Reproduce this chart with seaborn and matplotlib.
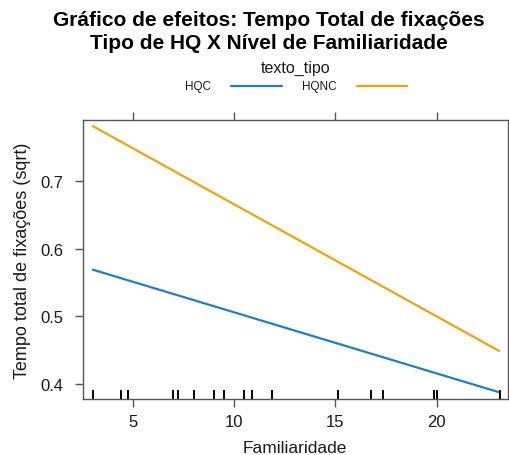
import matplotlib
matplotlib.use("Agg")
import matplotlib.pyplot as plt
import seaborn as sns
import pandas as pd
import numpy as np

# Data
tipos = ["HQC", "HQNC"]
x_ends = [3.0, 23.09]
hqc_vals = [0.569, 0.388]
hqnc_vals = [0.781, 0.449]
familiaridade_obs = [3.0, 4.38, 4.72, 6.98, 7.23, 7.99, 8.99, 9.5, 10.49, 10.89,
                     11.87, 15.14, 16.76, 17.37, 19.87, 20.0, 23.13]
x_ticks = [5, 10, 15, 20]
y_ticks = [0.4, 0.5, 0.6, 0.7]

colors = {"HQC": "#1F7FC8", "HQNC": "#F0A30A"}

df = pd.DataFrame({
    "Familiaridade": x_ends * 2,
    "valor": hqc_vals + hqnc_vals,
    "texto_tipo": ["HQC"] * 2 + ["HQNC"] * 2,
})

sns.set_style("white")
plt.rcParams['font.family'] = ['Liberation Sans', 'DejaVu Sans']

fig = plt.figure(figsize=(5.09, 4.56), dpi=100)
ax = fig.add_axes([0.1625, 0.1228, 0.835, 0.6118])

sns.lineplot(data=df, x="Familiaridade", y="valor", hue="texto_tipo",
             palette=colors, ax=ax, linewidth=1.6, legend=False)
sns.rugplot(x=familiaridade_obs, ax=ax, height=0.033, color="black", linewidth=1.4)

ax.set_xlim(2.5, 23.52)
ax.set_ylim(0.378, 0.79)
ax.set_xticks(x_ticks)
ax.set_yticks(y_ticks)
ax.set_xticklabels([str(t) for t in x_ticks])
ax.set_yticklabels([f"{t:.1f}" for t in y_ticks])
ax.tick_params(axis="both", which="both", direction="out", length=5.8, width=1,
               color="#555555", labelsize=12, labelcolor="#1a1a1a",
               top=True, right=True, bottom=True, left=True,
               labeltop=False, labelright=False)
ax.tick_params(axis="y", pad=8)
ax.tick_params(axis="x", pad=5)
for s in ax.spines.values():
    s.set_color("#555555")
    s.set_linewidth(1.0)

ax.set_xlabel("Familiaridade", fontsize=12.5, color="#1a1a1a", labelpad=8)
ax.set_ylabel("Tempo total de fixações (sqrt)", fontsize=13, color="#1a1a1a", labelpad=7)

fig.text(0.529, 0.955, "Gráfico de efeitos: Tempo Total de fixações",
         ha="center", va="center", fontsize=15, fontweight="bold", color="black")
fig.text(0.529, 0.905, "Tipo de HQ X Nível de Familiaridade",
         ha="center", va="center", fontsize=15, fontweight="bold", color="black")

# Legend (lattice style, on top)
fig.text(0.5815, 0.851, "texto_tipo", ha="center", va="center", fontsize=11.5, color="#1a1a1a")
fig.text(0.389, 0.809, "HQC", ha="center", va="center", fontsize=8.5, color="#1a1a1a")
fig.text(0.627, 0.809, "HQNC", ha="center", va="center", fontsize=8.5, color="#1a1a1a")
fig.add_artist(plt.Line2D([0.454, 0.554], [0.809, 0.809], color=colors["HQC"], linewidth=1.6,
                          transform=fig.transFigure))
fig.add_artist(plt.Line2D([0.701, 0.8], [0.809, 0.809], color=colors["HQNC"], linewidth=1.6,
                          transform=fig.transFigure))

fig.savefig("out.png", dpi=100)
